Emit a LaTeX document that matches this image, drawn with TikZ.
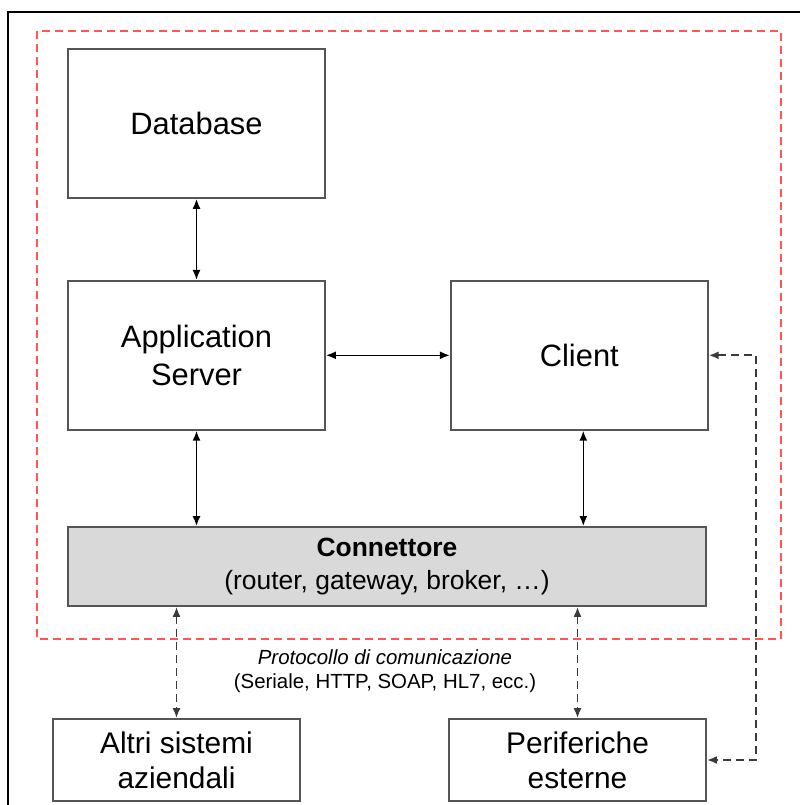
\documentclass[tikz,border=0pt]{standalone}
\usepackage{fontspec}
\setmainfont{Liberation Sans}
\usetikzlibrary{arrows.meta, positioning}
\definecolor{boxgray}{HTML}{555555}
\definecolor{fillgray}{HTML}{D9D9D9}
\definecolor{dashred}{HTML}{FF5555}
\definecolor{dashgray}{HTML}{3A3A3A}

\begin{document}
\begin{tikzpicture}[x=1bp, y=-1bp, >={Latex[length=10bp,width=8bp]},
	box/.style={draw=boxgray, line width=1.8bp, inner sep=0pt, align=center, font=\fontsize{31}{38}\selectfont},
	link/.style={<->, line width=1.6bp, black},
	dashlink/.style={<->, line width=1.8bp, draw=dashgray, dash pattern=on 8bp off 5bp}]
		\useasboundingbox (0,0) rectangle (800,805);
		% frame and system boundary
		\draw[line width=2.4bp] (8,810) -- (8,12) -- (805,12);
		\draw[dashred, line width=1.6bp, dash pattern=on 8bp off 5bp] (37,31) rectangle (781,639);

		\node[box, minimum width=257bp, minimum height=149bp					] at (196.5,123.5)	(DB)			{Database};
		\node[box, minimum width=257bp, minimum height=149bp, below=81bp of DB	]					(APP_SERVER)	{Application\\Server};
		\node[box, minimum width=257bp, minimum height=149bp, right=124bp of APP_SERVER]			(CLIENT)		{Client};
		\node[box, minimum width=638bp, minimum height=79bp, fill=fillgray, font=\fontsize{26.5}{33}\selectfont] at (387,566.5) (CONNETTORE) {\textbf{Connettore}\\(router, gateway, broker, …)};
		\node[box, minimum width=247bp, minimum height=82bp, font=\fontsize{30}{35}\selectfont] at (176.5,760)	(ALTRI)			{Altri sistemi\\aziendali};
		\node[box, minimum width=257bp, minimum height=82bp, font=\fontsize{30}{35}\selectfont] at (577.5,760)	(PERIFERICHE)	{Periferiche\\esterne};

		\node[align=center, font=\fontsize{20.5}{24}\selectfont] at (385,671) (PROTOCOLLO) {\textit{Protocollo di comunicazione}\\(Seriale, HTTP, SOAP, HL7, ecc.)};
		\coordinate (RETURN) at (756,0);

		\draw[link]	(DB)						--	(APP_SERVER);
		\draw[link]	(APP_SERVER)				--	(CLIENT);
		\draw[link]	(APP_SERVER.south)			--	(APP_SERVER.south |- CONNETTORE.north);
		\draw[link]	([xshift=4bp]CLIENT.south)	--	([xshift=4bp]CLIENT.south |- CONNETTORE.north);

		\draw[dashlink]	(ALTRI.north |- CONNETTORE.south)		--	(ALTRI.north);
		\draw[dashlink]	(PERIFERICHE.north |- CONNETTORE.south)	--	(PERIFERICHE.north);
		\draw[dashlink]	(CLIENT.east) -- (CLIENT.east -| RETURN) -- (PERIFERICHE.east -| RETURN) -- (PERIFERICHE.east);
	\end{tikzpicture}
\end{document}
